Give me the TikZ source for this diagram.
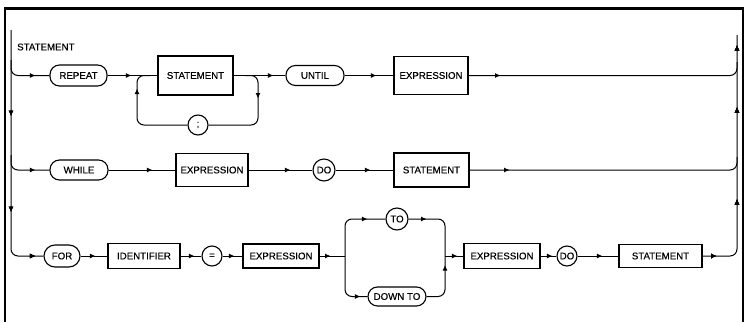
\documentclass[tikz,border=0pt]{standalone}
\usepackage{fontspec}
\setmainfont[FakeBold=0.4]{Liberation Sans}
\usetikzlibrary{arrows.meta,decorations.markings}
\tikzset{
  every node/.style={font=\fontsize{9.7}{10}\selectfont, inner sep=0pt},
  term/.style={draw, line width=1.1pt, rounded corners=9.5pt},
  rterm/.style={draw, circle, line width=1.1pt},
  nterm/.style={draw, rectangle, line width=1.1pt},
  line/.style={line width=1pt},
  arr/.style={postaction={decorate}, decoration={markings, mark=at position #1 with {\arrow{Latex[length=5.5pt,width=5pt]}}}},
  frame/.style={line width=2.8pt},
}
\begin{document}
\begin{tikzpicture}[x=1pt,y=-1pt]
\useasboundingbox (0,0) rectangle (748,322);
% frame
\coordinate (F1) at (5,322); \coordinate (F2) at (5,8.5);
\coordinate (F3) at (743,8.5); \coordinate (F4) at (743,322);
\draw[frame] (F1) -- (F2) -- (F3) -- (F4);
\node[anchor=west] (lbl) at (17,47) {STATEMENT};
% row 1
\node[term, minimum width=57pt, minimum height=21pt] (rep) at (78.5,75.5) {REPEAT};
\node[nterm, minimum width=75pt, minimum height=39pt] (st1) at (195.5,75.5) {STATEMENT};
\node[rterm, minimum size=20pt] (semi) at (198,125) {;};
\node[term, minimum width=58pt, minimum height=20pt] (until) at (315,75.5) {UNTIL};
\node[nterm, minimum width=74pt, minimum height=38pt] (ex1) at (431,75.5) {EXPRESSION};
% row 2
\node[term, minimum width=58pt, minimum height=20pt] (while) at (79,170) {WHILE};
\node[nterm, minimum width=72pt, minimum height=33pt] (ex2) at (212,170) {EXPRESSION};
\node[rterm, minimum size=22pt] (do1) at (324,170) {DO};
\node[nterm, minimum width=75pt, minimum height=34pt] (st2) at (431.5,170) {STATEMENT};
% row 3
\node[term, rounded corners=11pt, minimum width=36pt, minimum height=22pt] (for) at (62,256) {FOR};
\node[nterm, minimum width=72pt, minimum height=25pt] (id) at (144,256) {IDENTIFIER};
\node[rterm, minimum size=20pt] (eq) at (212,256) {=};
\node[nterm, minimum width=76pt, minimum height=24pt] (ex3) at (281,256) {EXPRESSION};
\node[rterm, minimum size=22pt] (to) at (397,219) {TO};
\node[term, minimum width=58pt, minimum height=19pt] (dt) at (397,296.5) {DOWN TO};
\node[nterm, minimum width=76pt, minimum height=25pt] (ex4) at (502,256) {EXPRESSION};
\node[rterm, minimum size=20pt] (do2) at (567,256) {DO};
\node[nterm, minimum width=83pt, minimum height=23pt] (st3) at (660.5,256) {STATEMENT};
% coordinates
\coordinate (Ltop) at (11,30);
\coordinate (L1) at (11,60);
\coordinate (L2) at (11,155);
\coordinate (lpL) at (137,75.5);
\coordinate (J1) at (150,75.5);
\coordinate (J2) at (245,75.5);
\coordinate (lpR) at (258,75.5);
\coordinate (R1) at (737,62);
\coordinate (R2) at (737,157);
\coordinate (S) at (345,256);
\coordinate (M) at (445,256);
\coordinate (Rtop) at (737,35);
% left trunk
\draw[line, rounded corners=7pt, arr=86pt, arr=182pt, arr=-8pt] (Ltop) |- (for.west);
\draw[line, rounded corners=7pt, arr=-14pt] (L1) |- (rep.west);
\draw[line, rounded corners=7pt, arr=-14pt] (L2) |- (while.west);
% row 1 connectors
\draw[line, arr=-26pt] (rep.east) -- (st1.west);
\draw[line, rounded corners=7pt, arr=-23pt] (semi.west) -| (lpL) -- (J1);
\draw[line, rounded corners=7pt, arr=33pt] (J2) -- (lpR) |- (semi.east);
\draw[line, arr=-12pt] (st1.east) -- (until.west);
\draw[line, arr=-17pt] (until.east) -- (ex1.west);
\draw[line, rounded corners=7pt, arr=32pt] (ex1.east) -| (R1);
% row 2 connectors
\draw[line, arr=-23pt] (while.east) -- (ex2.west);
\draw[line, arr=-22pt] (ex2.east) -- (do1.west);
\draw[line, arr=-23pt] (do1.east) -- (st2.west);
\draw[line, rounded corners=7pt, arr=40pt] (st2.east) -| (R2);
% row 3 connectors
\draw[line, arr=-12pt] (for.east) -- (id.west);
\draw[line, arr=-7pt] (id.east) -- (eq.west);
\draw[line, arr=-8pt] (eq.east) -- (ex3.west);
\draw[line, arr=11pt] (ex3.east) -- (S);
\draw[line, rounded corners=7pt, arr=-18pt] (S) |- (to.west);
\draw[line, rounded corners=7pt, arr=-7pt] (S) |- (dt.west);
\draw[line, rounded corners=7pt, arr=18pt] (to.east) -| (M);
\draw[line, rounded corners=7pt, arr=-9pt] (dt.east) -| (M);
\draw[line, arr=-6pt] (M) -- (ex4.west);
\draw[line, arr=-4pt] (ex4.east) -- (do2.west);
\draw[line, arr=-16pt] (do2.east) -- (st3.west);
% right trunk
\draw[line, rounded corners=7pt, arr=14pt, arr=-164pt, arr=-72pt, arr=-10pt] (st3.east) -| (Rtop);
\end{tikzpicture}
\end{document}
